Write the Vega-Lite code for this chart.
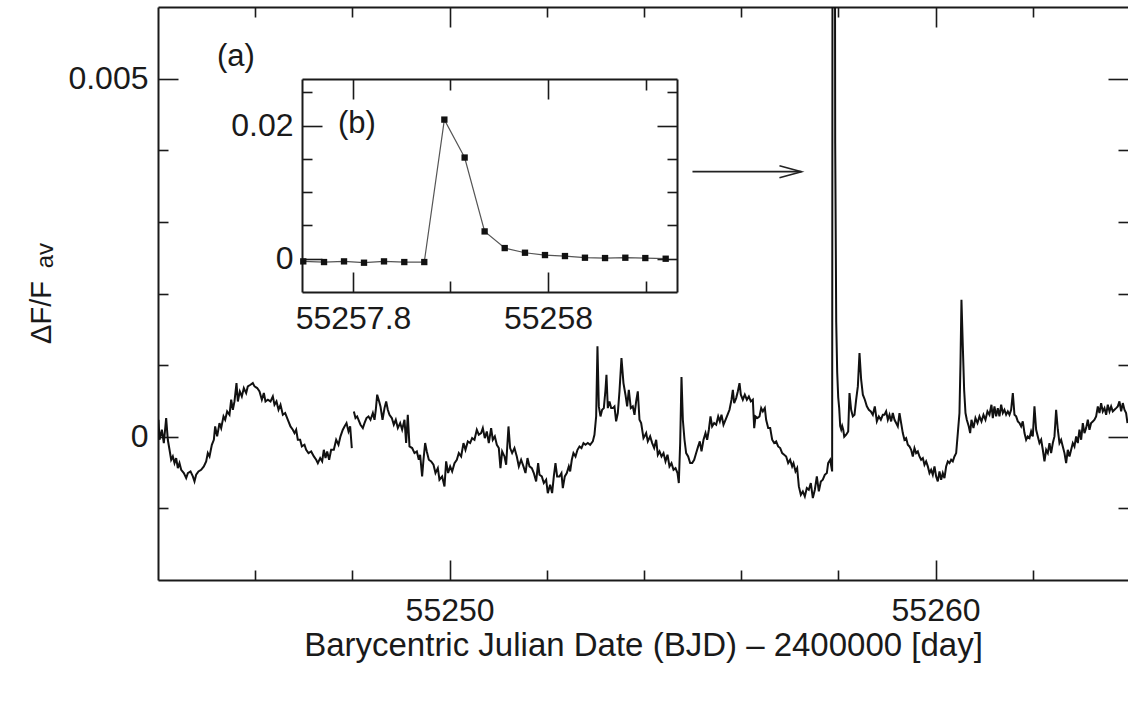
{
"$schema":"https://vega.github.io/schema/vega-lite/v6.json",
"width":970,"height":573,
"autosize":{"type":"none"},
"padding":{"left":158,"top":7,"right":0,"bottom":128},
"background":"white",
"config":{"view":{"stroke":null},
"axis":{"grid":false,"domainColor":"#1a1a1a","domainWidth":2,"tickColor":"#1a1a1a","tickWidth":1.6,"labelFont":"Liberation Sans","labelFontSize":32,"labelColor":"#1a1a1a","titleFont":"Liberation Sans","titleFontSize":32,"titleColor":"#1a1a1a","titleFontWeight":"normal","labelFlush":false,"labelOverlap":false}},
"datasets":{
"lc":[
{"t":55244.010,"v":0.000237,"s":1},{"t":55244.031,"v":-0.000042,"s":1},{"t":55244.079,"v":0.000098,"s":1},{"t":55244.120,"v":-0.000088,"s":1},{"t":55244.168,"v":0.000261,"s":1},{"t":55244.202,"v":-0.000042,"s":1},{"t":55244.237,"v":-0.000182,"s":1},{"t":55244.271,"v":-0.000321,"s":1},{"t":55244.305,"v":-0.000275,"s":1},{"t":55244.340,"v":-0.000368,"s":1},{"t":55244.374,"v":-0.000298,"s":1},{"t":55244.408,"v":-0.000438,"s":1},{"t":55244.442,"v":-0.000368,"s":1},{"t":55244.477,"v":-0.000461,"s":1},{"t":55244.532,"v":-0.000507,"s":1},{"t":55244.580,"v":-0.000577,"s":1},{"t":55244.614,"v":-0.000507,"s":1},{"t":55244.669,"v":-0.000484,"s":1},{"t":55244.717,"v":-0.000554,"s":1},{"t":55244.751,"v":-0.000624,"s":1},{"t":55244.785,"v":-0.000531,"s":1},{"t":55244.833,"v":-0.000484,"s":1},{"t":55244.888,"v":-0.000461,"s":1},{"t":55244.943,"v":-0.000414,"s":1},{"t":55244.991,"v":-0.000344,"s":1},{"t":55245.025,"v":-0.000228,"s":1},{"t":55245.060,"v":-0.000275,"s":1},{"t":55245.108,"v":-0.000112,"s":1},{"t":55245.149,"v":-0.000042,"s":1},{"t":55245.176,"v":0.000144,"s":1},{"t":55245.217,"v":0.000005,"s":1},{"t":55245.265,"v":0.000191,"s":1},{"t":55245.300,"v":0.000121,"s":1},{"t":55245.348,"v":0.000284,"s":1},{"t":55245.382,"v":0.000237,"s":1},{"t":55245.423,"v":0.000354,"s":1},{"t":55245.471,"v":0.000307,"s":1},{"t":55245.506,"v":0.000517,"s":1},{"t":55245.540,"v":0.000377,"s":1},{"t":55245.574,"v":0.000493,"s":1},{"t":55245.615,"v":0.000749,"s":1},{"t":55245.643,"v":0.000493,"s":1},{"t":55245.684,"v":0.000633,"s":1},{"t":55245.725,"v":0.000563,"s":1},{"t":55245.766,"v":0.000680,"s":1},{"t":55245.814,"v":0.000610,"s":1},{"t":55245.848,"v":0.000703,"s":1},{"t":55245.903,"v":0.000726,"s":1},{"t":55245.951,"v":0.000749,"s":1},{"t":55245.986,"v":0.000703,"s":1},{"t":55246.041,"v":0.000680,"s":1},{"t":55246.089,"v":0.000633,"s":1},{"t":55246.137,"v":0.000517,"s":1},{"t":55246.178,"v":0.000610,"s":1},{"t":55246.212,"v":0.000493,"s":1},{"t":55246.260,"v":0.000517,"s":1},{"t":55246.315,"v":0.000493,"s":1},{"t":55246.363,"v":0.000563,"s":1},{"t":55246.397,"v":0.000447,"s":1},{"t":55246.438,"v":0.000493,"s":1},{"t":55246.480,"v":0.000377,"s":1},{"t":55246.521,"v":0.000447,"s":1},{"t":55246.569,"v":0.000307,"s":1},{"t":55246.617,"v":0.000331,"s":1},{"t":55246.672,"v":0.000237,"s":1},{"t":55246.726,"v":0.000144,"s":1},{"t":55246.774,"v":0.000098,"s":1},{"t":55246.809,"v":0.000051,"s":1},{"t":55246.843,"v":0.000098,"s":1},{"t":55246.877,"v":-0.000042,"s":1},{"t":55246.925,"v":-0.000042,"s":1},{"t":55246.960,"v":-0.000135,"s":1},{"t":55247.014,"v":-0.000112,"s":1},{"t":55247.049,"v":-0.000182,"s":1},{"t":55247.097,"v":-0.000228,"s":1},{"t":55247.152,"v":-0.000205,"s":1},{"t":55247.207,"v":-0.000275,"s":1},{"t":55247.255,"v":-0.000321,"s":1},{"t":55247.289,"v":-0.000368,"s":1},{"t":55247.337,"v":-0.000298,"s":1},{"t":55247.378,"v":-0.000344,"s":1},{"t":55247.412,"v":-0.000182,"s":1},{"t":55247.447,"v":-0.000298,"s":1},{"t":55247.481,"v":-0.000205,"s":1},{"t":55247.522,"v":-0.000321,"s":1},{"t":55247.563,"v":-0.000182,"s":1},{"t":55247.618,"v":-0.000182,"s":1},{"t":55247.666,"v":-0.000042,"s":1},{"t":55247.714,"v":-0.000112,"s":1},{"t":55247.755,"v":0.000005,"s":1},{"t":55247.803,"v":0.000098,"s":1},{"t":55247.838,"v":0.000144,"s":1},{"t":55247.879,"v":0.000191,"s":1},{"t":55247.920,"v":0.000074,"s":1},{"t":55247.954,"v":0.000144,"s":1},{"t":55247.988,"v":-0.000158,"s":1},
{"t":55248.030,"v":0.000354,"s":2},{"t":55248.064,"v":0.000261,"s":2},{"t":55248.098,"v":0.000284,"s":2},{"t":55248.126,"v":0.000237,"s":2},{"t":55248.167,"v":0.000168,"s":2},{"t":55248.215,"v":0.000121,"s":2},{"t":55248.249,"v":0.000191,"s":2},{"t":55248.290,"v":0.000261,"s":2},{"t":55248.331,"v":0.000284,"s":2},{"t":55248.373,"v":0.000237,"s":2},{"t":55248.421,"v":0.000331,"s":2},{"t":55248.455,"v":0.000237,"s":2},{"t":55248.482,"v":0.000377,"s":2},{"t":55248.510,"v":0.000587,"s":2},{"t":55248.551,"v":0.000493,"s":2},{"t":55248.578,"v":0.000424,"s":2},{"t":55248.620,"v":0.000237,"s":2},{"t":55248.661,"v":0.000400,"s":2},{"t":55248.695,"v":0.000493,"s":2},{"t":55248.729,"v":0.000377,"s":2},{"t":55248.763,"v":0.000307,"s":2},{"t":55248.811,"v":0.000261,"s":2},{"t":55248.852,"v":0.000168,"s":2},{"t":55248.893,"v":0.000237,"s":2},{"t":55248.935,"v":0.000121,"s":2},{"t":55248.983,"v":0.000191,"s":2},{"t":55249.024,"v":0.000098,"s":2},
{"t":55249.072,"v":0.000237,"s":2},{"t":55249.106,"v":-0.000088,"s":2},{"t":55249.140,"v":0.000307,"s":2},{"t":55249.175,"v":-0.000135,"s":2},{"t":55249.230,"v":-0.000158,"s":2},{"t":55249.278,"v":-0.000228,"s":2},{"t":55249.326,"v":-0.000205,"s":2},{"t":55249.367,"v":-0.000321,"s":2},{"t":55249.394,"v":-0.000251,"s":2},{"t":55249.435,"v":-0.000554,"s":2},{"t":55249.463,"v":-0.000321,"s":2},{"t":55249.497,"v":-0.000088,"s":2},{"t":55249.531,"v":-0.000205,"s":2},{"t":55249.573,"v":-0.000321,"s":2},{"t":55249.621,"v":-0.000344,"s":2},{"t":55249.669,"v":-0.000391,"s":2},{"t":55249.710,"v":-0.000507,"s":2},{"t":55249.758,"v":-0.000438,"s":2},{"t":55249.792,"v":-0.000600,"s":2},{"t":55249.847,"v":-0.000554,"s":2},{"t":55249.895,"v":-0.000694,"s":2},{"t":55249.929,"v":-0.000344,"s":2},{"t":55249.970,"v":-0.000507,"s":2},{"t":55250.012,"v":-0.000414,"s":2},{"t":55250.053,"v":-0.000484,"s":2},{"t":55250.101,"v":-0.000368,"s":2},{"t":55250.149,"v":-0.000321,"s":2},{"t":55250.190,"v":-0.000228,"s":2},{"t":55250.238,"v":-0.000275,"s":2},{"t":55250.286,"v":-0.000088,"s":2},{"t":55250.327,"v":-0.000182,"s":2},{"t":55250.375,"v":-0.000065,"s":2},{"t":55250.423,"v":-0.000088,"s":2},{"t":55250.464,"v":-0.000019,"s":2},{"t":55250.512,"v":-0.000042,"s":2},{"t":55250.560,"v":0.000098,"s":2},{"t":55250.601,"v":0.000028,"s":2},{"t":55250.649,"v":0.000051,"s":2},{"t":55250.684,"v":0.000121,"s":2},{"t":55250.725,"v":-0.000019,"s":2},{"t":55250.766,"v":0.000074,"s":2},{"t":55250.807,"v":-0.000088,"s":2},{"t":55250.855,"v":0.000121,"s":2},{"t":55250.889,"v":-0.000042,"s":2},{"t":55250.931,"v":0.000005,"s":2},{"t":55250.972,"v":-0.000112,"s":2},{"t":55251.013,"v":-0.000158,"s":2},{"t":55251.047,"v":-0.000438,"s":2},{"t":55251.082,"v":-0.000205,"s":2},{"t":55251.130,"v":-0.000275,"s":2},{"t":55251.164,"v":-0.000391,"s":2},{"t":55251.212,"v":0.000144,"s":2},{"t":55251.246,"v":-0.000158,"s":2},{"t":55251.287,"v":-0.000228,"s":2},{"t":55251.335,"v":-0.000158,"s":2},{"t":55251.383,"v":-0.000275,"s":2},{"t":55251.425,"v":-0.000414,"s":2},{"t":55251.472,"v":-0.000321,"s":2},{"t":55251.520,"v":-0.000414,"s":2},{"t":55251.562,"v":-0.000507,"s":2},{"t":55251.603,"v":-0.000298,"s":2},{"t":55251.644,"v":-0.000414,"s":2},{"t":55251.692,"v":-0.000438,"s":2},{"t":55251.733,"v":-0.000507,"s":2},{"t":55251.781,"v":-0.000624,"s":2},{"t":55251.822,"v":-0.000368,"s":2},{"t":55251.850,"v":-0.000531,"s":2},{"t":55251.898,"v":-0.000554,"s":2},{"t":55251.939,"v":-0.000647,"s":2},{"t":55251.987,"v":-0.000600,"s":2},{"t":55252.021,"v":-0.000787,"s":2},{"t":55252.069,"v":-0.000670,"s":2},{"t":55252.110,"v":-0.000787,"s":2},{"t":55252.145,"v":-0.000554,"s":2},{"t":55252.179,"v":-0.000368,"s":2},{"t":55252.213,"v":-0.000554,"s":2},{"t":55252.261,"v":-0.000554,"s":2},{"t":55252.302,"v":-0.000507,"s":2},{"t":55252.330,"v":-0.000717,"s":2},{"t":55252.371,"v":-0.000554,"s":2},{"t":55252.412,"v":-0.000507,"s":2},{"t":55252.453,"v":-0.000414,"s":2},{"t":55252.481,"v":-0.000484,"s":2},{"t":55252.515,"v":-0.000321,"s":2},{"t":55252.549,"v":-0.000228,"s":2},{"t":55252.591,"v":-0.000275,"s":2},{"t":55252.632,"v":-0.000182,"s":2},{"t":55252.673,"v":-0.000135,"s":2},{"t":55252.714,"v":-0.000158,"s":2},{"t":55252.755,"v":-0.000088,"s":2},{"t":55252.796,"v":-0.000112,"s":2},{"t":55252.844,"v":-0.000088,"s":2},{"t":55252.892,"v":-0.000112,"s":2},{"t":55252.947,"v":-0.000065,"s":2},{"t":55252.981,"v":0.000028,"s":2},{"t":55253.016,"v":0.000284,"s":2},{"t":55253.043,"v":0.001262,"s":2},{"t":55253.071,"v":0.000424,"s":2},{"t":55253.105,"v":0.000284,"s":2},{"t":55253.139,"v":0.000377,"s":2},{"t":55253.174,"v":0.000400,"s":2},{"t":55253.208,"v":0.000656,"s":2},{"t":55253.228,"v":0.000866,"s":2},{"t":55253.256,"v":0.000400,"s":2},{"t":55253.290,"v":0.000493,"s":2},{"t":55253.325,"v":0.000400,"s":2},{"t":55253.359,"v":0.000400,"s":2},{"t":55253.393,"v":0.000424,"s":2},{"t":55253.427,"v":0.000214,"s":2},{"t":55253.462,"v":0.000331,"s":2},{"t":55253.496,"v":0.000633,"s":2},{"t":55253.537,"v":0.001099,"s":2},{"t":55253.578,"v":0.000749,"s":2},{"t":55253.619,"v":0.000587,"s":2},{"t":55253.654,"v":0.000424,"s":2},{"t":55253.688,"v":0.000656,"s":2},{"t":55253.729,"v":0.000400,"s":2},{"t":55253.770,"v":0.000424,"s":2},{"t":55253.805,"v":0.000307,"s":2},{"t":55253.839,"v":0.000493,"s":2},{"t":55253.873,"v":0.000633,"s":2},{"t":55253.908,"v":0.000237,"s":2},{"t":55253.942,"v":0.000191,"s":2},{"t":55253.990,"v":-0.000019,"s":2},
{"t":55254.011,"v":0.000005,"s":2},{"t":55254.045,"v":0.000051,"s":2},{"t":55254.079,"v":-0.000065,"s":2},{"t":55254.127,"v":0.000005,"s":2},{"t":55254.169,"v":-0.000088,"s":2},{"t":55254.210,"v":-0.000158,"s":2},{"t":55254.251,"v":-0.000042,"s":2},{"t":55254.285,"v":-0.000251,"s":2},{"t":55254.320,"v":-0.000205,"s":2},{"t":55254.361,"v":-0.000275,"s":2},{"t":55254.402,"v":-0.000228,"s":2},{"t":55254.443,"v":-0.000344,"s":2},{"t":55254.484,"v":-0.000251,"s":2},{"t":55254.525,"v":-0.000414,"s":2},{"t":55254.566,"v":-0.000368,"s":2},{"t":55254.608,"v":-0.000461,"s":2},{"t":55254.649,"v":-0.000438,"s":2},{"t":55254.690,"v":-0.000507,"s":2},{"t":55254.717,"v":-0.000647,"s":2},{"t":55254.745,"v":-0.000088,"s":2},{"t":55254.772,"v":0.000833,"s":2},{"t":55254.800,"v":0.000237,"s":2},{"t":55254.834,"v":-0.000042,"s":2},{"t":55254.868,"v":-0.000228,"s":2},{"t":55254.909,"v":-0.000275,"s":2},{"t":55254.951,"v":-0.000368,"s":2},{"t":55254.992,"v":-0.000368,"s":2},{"t":55255.033,"v":-0.000321,"s":2},{"t":55255.074,"v":-0.000228,"s":2},{"t":55255.115,"v":-0.000135,"s":2},{"t":55255.149,"v":-0.000065,"s":2},{"t":55255.184,"v":-0.000205,"s":2},{"t":55255.225,"v":-0.000042,"s":2},{"t":55255.266,"v":0.000051,"s":2},{"t":55255.300,"v":-0.000042,"s":2},{"t":55255.335,"v":0.000098,"s":2},{"t":55255.369,"v":0.000284,"s":2},{"t":55255.403,"v":0.000144,"s":2},{"t":55255.444,"v":0.000191,"s":2},{"t":55255.486,"v":0.000168,"s":2},{"t":55255.527,"v":0.000284,"s":2},{"t":55255.561,"v":0.000214,"s":2},{"t":55255.595,"v":0.000307,"s":2},{"t":55255.636,"v":0.000168,"s":2},{"t":55255.678,"v":0.000237,"s":2},{"t":55255.719,"v":0.000307,"s":2},{"t":55255.760,"v":0.000377,"s":2},{"t":55255.801,"v":0.000517,"s":2},{"t":55255.829,"v":0.000656,"s":2},{"t":55255.856,"v":0.000470,"s":2},{"t":55255.897,"v":0.000540,"s":2},{"t":55255.931,"v":0.000633,"s":2},{"t":55255.966,"v":0.000749,"s":2},{"t":55255.993,"v":0.000587,"s":2},{"t":55256.034,"v":0.000517,"s":2},{"t":55256.075,"v":0.000587,"s":2},{"t":55256.117,"v":0.000517,"s":2},{"t":55256.158,"v":0.000563,"s":2},{"t":55256.199,"v":0.000493,"s":2},{"t":55256.240,"v":0.000517,"s":2},{"t":55256.268,"v":0.000121,"s":2},{"t":55256.295,"v":0.000284,"s":2},{"t":55256.336,"v":0.000261,"s":2},{"t":55256.377,"v":0.000284,"s":2},{"t":55256.412,"v":0.000400,"s":2},{"t":55256.446,"v":0.000354,"s":2},{"t":55256.487,"v":0.000400,"s":2},{"t":55256.514,"v":0.000237,"s":2},{"t":55256.556,"v":0.000121,"s":2},{"t":55256.597,"v":0.000121,"s":2},{"t":55256.638,"v":-0.000042,"s":2},{"t":55256.679,"v":-0.000088,"s":2},{"t":55256.720,"v":-0.000065,"s":2},{"t":55256.761,"v":-0.000135,"s":2},{"t":55256.803,"v":-0.000158,"s":2},{"t":55256.844,"v":-0.000228,"s":2},{"t":55256.885,"v":-0.000251,"s":2},{"t":55256.926,"v":-0.000275,"s":2},{"t":55256.967,"v":-0.000368,"s":2},{"t":55257.008,"v":-0.000321,"s":2},{"t":55257.049,"v":-0.000414,"s":2},{"t":55257.077,"v":-0.000368,"s":2},{"t":55257.118,"v":-0.000484,"s":2},{"t":55257.152,"v":-0.000438,"s":2},{"t":55257.187,"v":-0.000694,"s":2},{"t":55257.228,"v":-0.000810,"s":2},{"t":55257.269,"v":-0.000763,"s":2},{"t":55257.310,"v":-0.000833,"s":2},{"t":55257.351,"v":-0.000717,"s":2},{"t":55257.392,"v":-0.000740,"s":2},{"t":55257.433,"v":-0.000647,"s":2},{"t":55257.475,"v":-0.000857,"s":2},{"t":55257.516,"v":-0.000740,"s":2},{"t":55257.557,"v":-0.000554,"s":2},{"t":55257.598,"v":-0.000763,"s":2},{"t":55257.639,"v":-0.000624,"s":2},{"t":55257.680,"v":-0.000600,"s":2},{"t":55257.721,"v":-0.000531,"s":2},{"t":55257.763,"v":-0.000507,"s":2},{"t":55257.790,"v":-0.000368,"s":2},{"t":55257.831,"v":-0.000321,"s":2},{"t":55257.872,"v":-0.000484,"s":2},
{"t":55257.894,"v":0.0209,"s":2},{"t":55257.915,"v":0.0152,"s":2},{"t":55257.935,"v":0.0041,"s":2},{"t":55257.956,"v":0.0016,"s":2},{"t":55257.976,"v":0.0009,"s":2},{"t":55257.997,"v":0.00055,"s":2},{"t":55258.017,"v":0.0004,"s":2},{"t":55258.038,"v":0.00015,"s":2},{"t":55258.059,"v":0.0001,"s":2},{"t":55258.079,"v":0.00015,"s":2},{"t":55258.100,"v":0.0001,"s":2},{"t":55258.121,"v":0.0,"s":2},
{"t":55258.161,"v":0.000028,"s":2},{"t":55258.202,"v":0.000074,"s":2},{"t":55258.229,"v":0.000610,"s":2},{"t":55258.263,"v":0.000377,"s":2},{"t":55258.298,"v":0.000284,"s":2},{"t":55258.332,"v":0.000307,"s":2},{"t":55258.366,"v":0.000517,"s":2},{"t":55258.401,"v":0.000703,"s":2},{"t":55258.435,"v":0.001168,"s":2},{"t":55258.469,"v":0.000796,"s":2},{"t":55258.504,"v":0.000587,"s":2},{"t":55258.545,"v":0.000517,"s":2},{"t":55258.586,"v":0.000424,"s":2},{"t":55258.627,"v":0.000377,"s":2},{"t":55258.668,"v":0.000354,"s":2},{"t":55258.709,"v":0.000307,"s":2},{"t":55258.750,"v":0.000424,"s":2},{"t":55258.792,"v":0.000214,"s":2},{"t":55258.833,"v":0.000284,"s":2},{"t":55258.874,"v":0.000237,"s":2},{"t":55258.915,"v":0.000307,"s":2},
{"t":55258.949,"v":0.000307,"s":2},{"t":55258.983,"v":0.000354,"s":2},{"t":55259.018,"v":0.000237,"s":2},{"t":55259.052,"v":0.000307,"s":2},{"t":55259.086,"v":0.000214,"s":2},{"t":55259.120,"v":0.000331,"s":2},{"t":55259.155,"v":0.000237,"s":2},{"t":55259.189,"v":0.000191,"s":2},{"t":55259.223,"v":0.000144,"s":2},{"t":55259.258,"v":0.000331,"s":2},{"t":55259.292,"v":0.000191,"s":2},{"t":55259.326,"v":0.000051,"s":2},{"t":55259.360,"v":-0.000042,"s":2},{"t":55259.395,"v":-0.000019,"s":2},{"t":55259.429,"v":-0.000112,"s":2},{"t":55259.463,"v":-0.000135,"s":2},{"t":55259.498,"v":-0.000182,"s":2},{"t":55259.532,"v":-0.000275,"s":2},{"t":55259.566,"v":-0.000158,"s":2},{"t":55259.600,"v":-0.000228,"s":2},{"t":55259.635,"v":-0.000205,"s":2},{"t":55259.669,"v":-0.000275,"s":2},{"t":55259.703,"v":-0.000321,"s":2},{"t":55259.738,"v":-0.000298,"s":2},{"t":55259.772,"v":-0.000391,"s":2},{"t":55259.806,"v":-0.000344,"s":2},{"t":55259.841,"v":-0.000414,"s":2},{"t":55259.875,"v":-0.000507,"s":2},{"t":55259.909,"v":-0.000461,"s":2},{"t":55259.943,"v":-0.000531,"s":2},{"t":55259.978,"v":-0.000414,"s":2},{"t":55260.012,"v":-0.000554,"s":2},{"t":55260.046,"v":-0.000624,"s":2},{"t":55260.081,"v":-0.000484,"s":2},{"t":55260.115,"v":-0.000600,"s":2},{"t":55260.149,"v":-0.000507,"s":2},{"t":55260.183,"v":-0.000577,"s":2},{"t":55260.218,"v":-0.000414,"s":2},{"t":55260.252,"v":-0.000344,"s":2},{"t":55260.286,"v":-0.000368,"s":2},{"t":55260.321,"v":-0.000321,"s":2},{"t":55260.355,"v":-0.000344,"s":2},{"t":55260.389,"v":-0.000275,"s":2},{"t":55260.424,"v":-0.000228,"s":2},{"t":55260.458,"v":0.000051,"s":2},{"t":55260.492,"v":0.000331,"s":2},{"t":55260.513,"v":0.001029,"s":2},{"t":55260.533,"v":0.001913,"s":2},{"t":55260.561,"v":0.001262,"s":2},{"t":55260.588,"v":0.000656,"s":2},{"t":55260.616,"v":0.000331,"s":2},{"t":55260.643,"v":0.000237,"s":2},{"t":55260.684,"v":0.000144,"s":2},{"t":55260.712,"v":0.000051,"s":2},{"t":55260.739,"v":0.000237,"s":2},{"t":55260.780,"v":0.000121,"s":2},{"t":55260.821,"v":0.000261,"s":2},{"t":55260.863,"v":0.000191,"s":2},{"t":55260.904,"v":0.000284,"s":2},{"t":55260.945,"v":0.000214,"s":2},{"t":55260.986,"v":0.000307,"s":2},{"t":55261.027,"v":0.000237,"s":2},{"t":55261.068,"v":0.000354,"s":2},{"t":55261.109,"v":0.000307,"s":2},{"t":55261.150,"v":0.000447,"s":2},{"t":55261.178,"v":0.000261,"s":2},{"t":55261.212,"v":0.000424,"s":2},{"t":55261.247,"v":0.000284,"s":2},{"t":55261.281,"v":0.000400,"s":2},{"t":55261.315,"v":0.000284,"s":2},{"t":55261.350,"v":0.000447,"s":2},{"t":55261.384,"v":0.000331,"s":2},{"t":55261.418,"v":0.000377,"s":2},{"t":55261.452,"v":0.000307,"s":2},{"t":55261.487,"v":0.000354,"s":2},{"t":55261.521,"v":0.000307,"s":2},{"t":55261.555,"v":0.000377,"s":2},{"t":55261.590,"v":0.000610,"s":2},{"t":55261.624,"v":0.000307,"s":2},{"t":55261.658,"v":0.000284,"s":2},{"t":55261.693,"v":0.000214,"s":2},{"t":55261.727,"v":0.000191,"s":2},{"t":55261.761,"v":0.000144,"s":2},{"t":55261.795,"v":0.000214,"s":2},{"t":55261.830,"v":0.000051,"s":2},{"t":55261.864,"v":-0.000042,"s":2},{"t":55261.898,"v":0.000005,"s":2},{"t":55261.933,"v":-0.000019,"s":2},{"t":55261.967,"v":0.000074,"s":2},{"t":55262.001,"v":0.000005,"s":2},{"t":55262.035,"v":0.000424,"s":2},{"t":55262.070,"v":0.000098,"s":2},{"t":55262.104,"v":0.000005,"s":2},{"t":55262.138,"v":-0.000088,"s":2},{"t":55262.173,"v":-0.000042,"s":2},{"t":55262.207,"v":-0.000182,"s":2},{"t":55262.241,"v":-0.000344,"s":2},{"t":55262.276,"v":-0.000182,"s":2},{"t":55262.310,"v":-0.000228,"s":2},{"t":55262.344,"v":-0.000088,"s":2},{"t":55262.378,"v":-0.000228,"s":2},{"t":55262.413,"v":-0.000088,"s":2},{"t":55262.447,"v":0.000005,"s":2},{"t":55262.481,"v":0.000377,"s":2},{"t":55262.516,"v":0.000098,"s":2},{"t":55262.550,"v":-0.000088,"s":2},{"t":55262.584,"v":-0.000042,"s":2},{"t":55262.618,"v":-0.000135,"s":2},{"t":55262.653,"v":-0.000228,"s":2},{"t":55262.687,"v":-0.000368,"s":2},{"t":55262.721,"v":-0.000182,"s":2},{"t":55262.756,"v":-0.000275,"s":2},{"t":55262.790,"v":-0.000182,"s":2},{"t":55262.824,"v":-0.000088,"s":2},{"t":55262.858,"v":-0.000135,"s":2},{"t":55262.893,"v":0.000005,"s":2},{"t":55262.927,"v":-0.000088,"s":2},{"t":55262.961,"v":0.000098,"s":2},{"t":55262.996,"v":-0.000042,"s":2},{"t":55263.030,"v":0.000191,"s":2},{"t":55263.064,"v":0.000051,"s":2},{"t":55263.098,"v":0.000121,"s":2},{"t":55263.133,"v":0.000237,"s":2},{"t":55263.167,"v":0.000098,"s":2},{"t":55263.201,"v":0.000191,"s":2},{"t":55263.236,"v":0.000214,"s":2},{"t":55263.270,"v":0.000237,"s":2},{"t":55263.304,"v":0.000284,"s":2},{"t":55263.339,"v":0.000424,"s":2},{"t":55263.373,"v":0.000331,"s":2},{"t":55263.407,"v":0.000470,"s":2},{"t":55263.441,"v":0.000354,"s":2},{"t":55263.476,"v":0.000400,"s":2},{"t":55263.510,"v":0.000307,"s":2},{"t":55263.544,"v":0.000447,"s":2},{"t":55263.579,"v":0.000354,"s":2},{"t":55263.613,"v":0.000424,"s":2},{"t":55263.647,"v":0.000354,"s":2},{"t":55263.681,"v":0.000377,"s":2},{"t":55263.716,"v":0.000400,"s":2},{"t":55263.750,"v":0.000424,"s":2},{"t":55263.784,"v":0.000493,"s":2},{"t":55263.819,"v":0.000354,"s":2},{"t":55263.853,"v":0.000470,"s":2},{"t":55263.887,"v":0.000377,"s":2},{"t":55263.921,"v":0.000331,"s":2},{"t":55263.949,"v":0.000191,"s":2}
],
"inset":[
{"t":55257.7490,"v":-0.0004},{"t":55257.7703,"v":-0.0005},{"t":55257.7908,"v":-0.0004},{"t":55257.8113,"v":-0.0006},{"t":55257.8318,"v":-0.0004},{"t":55257.8526,"v":-0.0005},{"t":55257.8731,"v":-0.0005},{"t":55257.8937,"v":0.0209},{"t":55257.9145,"v":0.0152},{"t":55257.9350,"v":0.0041},{"t":55257.9556,"v":0.0016},{"t":55257.9764,"v":0.0009},{"t":55257.9969,"v":0.00055},{"t":55258.0174,"v":0.0004},{"t":55258.0379,"v":0.00015},{"t":55258.0585,"v":0.0001},{"t":55258.0793,"v":0.00015},{"t":55258.0998,"v":0.0001},{"t":55258.1207,"v":0.0}
],
"arrow":[
{"t":55254.998,"v":0.003701,"p":"shaft","o":1},{"t":55257.241,"v":0.003701,"p":"shaft","o":2},
{"t":55256.788,"v":0.003785,"p":"head","o":1},{"t":55257.241,"v":0.003701,"p":"head","o":2},{"t":55256.788,"v":0.003617,"p":"head","o":3}
],
"alabel":[{"t":55245.214,"v":0.00518,"label":"(a)"}],
"sub":[{"t":55241.839,"v":0.002528,"label":"av"}],
"blabel":[{"t":55257.7846,"v":0.0189,"label":"(b)"}]
},
"layer":[
{
"layer":[
{"data":{"name":"lc"},
"mark":{"type":"line","color":"#111111","strokeWidth":2,"clip":true},
"encoding":{
"x":{"field":"t","type":"quantitative","scale":{"domain":[55244,55263.96],"nice":false,"zero":false},
"axis":{"orient":"bottom","values":[55246,55248,55250,55252,55254,55256,55258,55260,55262],
"tickSize":{"condition":{"test":"datum.value % 10 == 0","value":-20},"value":-10},
"labelExpr":"datum.value % 10 == 0 ? format(datum.value, 'd') : ''","labelPadding":35,
"title":"Barycentric Julian Date (BJD) – 2400000 [day]","titleFontSize":33,"titleBaseline":"alphabetic","titleY":75}},
"y":{"field":"v","type":"quantitative","scale":{"domain":[-0.002,0.006],"nice":false,"zero":false},
"axis":{"orient":"left","values":[-0.001,0,0.001,0.002,0.003,0.004,0.005],
"tickSize":{"condition":{"test":"abs(datum.value) < 1e-9 || abs(datum.value - 0.005) < 1e-9","value":-20},"value":-10},
"labelExpr":"abs(datum.value) < 1e-9 ? '0' : (abs(datum.value - 0.005) < 1e-9 ? '0.005' : '')","labelPadding":30,
"title":"ΔF/F","titleFontSize":29,"titleAngle":270,"titleAlign":"center","titleBaseline":"alphabetic","titleX":-108,"titleY":305}},
"detail":{"field":"s","type":"nominal"}}},
{"data":{"name":"arrow"},
"mark":{"type":"line","color":"#222222","strokeWidth":1.6},
"encoding":{
"x":{"field":"t","type":"quantitative","scale":{"domain":[55244,55263.96],"nice":false,"zero":false},
"axis":{"orient":"top","values":[55246,55248,55250,55252,55254,55256,55258,55260,55262],
"tickSize":{"condition":{"test":"datum.value % 10 == 0","value":-20},"value":-10},"labels":false,"title":null}},
"y":{"field":"v","type":"quantitative","scale":{"domain":[-0.002,0.006],"nice":false,"zero":false},
"axis":{"orient":"right","values":[-0.001,0,0.001,0.002,0.003,0.004,0.005],"domain":false,
"tickSize":{"condition":{"test":"abs(datum.value) < 1e-9 || abs(datum.value - 0.005) < 1e-9","value":-20},"value":-10},"labels":false,"title":null}},
"detail":{"field":"p","type":"nominal"},
"order":{"field":"o","type":"quantitative"}}},
{"data":{"name":"alabel"},
"mark":{"type":"text","font":"Liberation Sans","fontSize":31,"color":"#1a1a1a","align":"left","baseline":"alphabetic"},
"encoding":{
"x":{"field":"t","type":"quantitative","scale":{"domain":[55244,55263.96],"nice":false,"zero":false},"axis":null},
"y":{"field":"v","type":"quantitative","scale":{"domain":[-0.002,0.006],"nice":false,"zero":false},"axis":null},
"text":{"field":"label"}}},
{"data":{"name":"sub"},
"mark":{"type":"text","font":"Liberation Sans","fontSize":24,"color":"#1a1a1a","align":"center","baseline":"alphabetic","angle":270},
"encoding":{
"x":{"field":"t","type":"quantitative","scale":{"domain":[55244,55263.96],"nice":false,"zero":false},"axis":null},
"y":{"field":"v","type":"quantitative","scale":{"domain":[-0.002,0.006],"nice":false,"zero":false},"axis":null},
"text":{"field":"label"}}}
],
"resolve":{"axis":{"x":"independent","y":"independent"}}
},
{
"layer":[
{"data":{"name":"inset"},
"mark":{"type":"line","color":"#555555","strokeWidth":1.2},
"encoding":{
"x":{"field":"t","type":"quantitative","scale":{"domain":[55257.7477,55258.1323],"range":[144,519],"nice":false,"zero":false},
"axis":{"orient":"bottom","offset":-288,"values":[55257.8,55257.9,55258,55258.1],
"tickSize":{"condition":{"test":"abs(datum.value - 55257.8) < 1e-6 || abs(datum.value - 55258) < 1e-6","value":-20},"value":-11},
"labelExpr":"abs(datum.value - 55257.8) < 1e-6 ? '55257.8' : (abs(datum.value - 55258) < 1e-6 ? '55258' : '')","labelPadding":31,"title":null}},
"y":{"field":"v","type":"quantitative","scale":{"domain":[-0.005,0.027],"range":[285,72],"nice":false,"zero":false},
"axis":{"orient":"left","offset":-144,"values":[0,0.005,0.01,0.015,0.02,0.025],
"tickSize":{"condition":{"test":"abs(datum.value) < 1e-9 || abs(datum.value - 0.02) < 1e-9","value":-20},"value":-10},
"labelExpr":"abs(datum.value) < 1e-9 ? '0' : (abs(datum.value - 0.02) < 1e-9 ? '0.02' : '')","labelPadding":29,"title":null}}}},
{"data":{"name":"inset"},
"mark":{"type":"square","color":"#111111","size":40,"opacity":1},
"encoding":{
"x":{"field":"t","type":"quantitative","scale":{"domain":[55257.7477,55258.1323],"range":[144,519],"nice":false,"zero":false},
"axis":{"orient":"top","offset":-72,"values":[55257.8,55257.9,55258,55258.1],
"tickSize":{"condition":{"test":"abs(datum.value - 55257.8) < 1e-6 || abs(datum.value - 55258) < 1e-6","value":-20},"value":-11},"labels":false,"title":null}},
"y":{"field":"v","type":"quantitative","scale":{"domain":[-0.005,0.027],"range":[285,72],"nice":false,"zero":false},
"axis":{"orient":"right","offset":-451,"values":[0,0.005,0.01,0.015,0.02,0.025],
"tickSize":{"condition":{"test":"abs(datum.value) < 1e-9 || abs(datum.value - 0.02) < 1e-9","value":-20},"value":-10},"labels":false,"title":null}}}},
{"data":{"name":"blabel"},
"mark":{"type":"text","font":"Liberation Sans","fontSize":31,"color":"#1a1a1a","align":"left","baseline":"alphabetic"},
"encoding":{
"x":{"field":"t","type":"quantitative","scale":{"domain":[55257.7477,55258.1323],"range":[144,519],"nice":false,"zero":false},"axis":null},
"y":{"field":"v","type":"quantitative","scale":{"domain":[-0.005,0.027],"range":[285,72],"nice":false,"zero":false},"axis":null},
"text":{"field":"label"}}}
],
"resolve":{"axis":{"x":"independent","y":"independent"}}
}
],
"resolve":{"scale":{"x":"independent","y":"independent"},"axis":{"x":"independent","y":"independent"}}
}
